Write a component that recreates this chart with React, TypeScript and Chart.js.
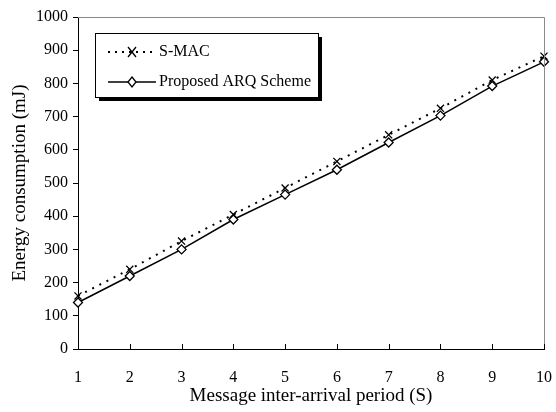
import React, { useEffect, useRef } from "react";
import { Chart, registerables } from "chart.js";

Chart.register(...registerables);

const categories = ["1", "2", "3", "4", "5", "6", "7", "8", "9", "10"];
const smacValues = [160, 240, 325, 405, 485, 565, 645, 725, 810, 882];
const arqValues = [140, 220, 300, 390, 465, 540, 622, 703, 792, 865];
const seriesNames = ["S-MAC", "Proposed ARQ Scheme"];
const xTitle = "Message inter-arrival period (S)";
const yTitle = "Energy consumption (mJ)";

const FONT = "'Liberation Serif', 'Times New Roman', serif";

const framePlugin = {
  id: "frameAndLegend",
  afterDraw(chart: any) {
    const ctx = chart.ctx;
    const a = chart.chartArea;
    ctx.save();
    ctx.strokeStyle = "#8a8a8a";
    ctx.lineWidth = 1;
    ctx.beginPath();
    ctx.moveTo(a.left, a.top + 0.5);
    ctx.lineTo(a.right + 0.5, a.top + 0.5);
    ctx.lineTo(a.right + 0.5, a.bottom);
    ctx.stroke();
    const xs = chart.scales.x;
    ctx.strokeStyle = "#000";
    ctx.beginPath();
    for (let i = 0; i < categories.length; i++) {
      const px = Math.round(xs.getPixelForTick(i)) + 0.5;
      ctx.moveTo(px, a.bottom);
      ctx.lineTo(px, a.bottom - 5);
    }
    ctx.stroke();

    const bx = 95, by = 33, bw = 223, bh = 64;
    ctx.fillStyle = "#000";
    ctx.fillRect(bx + 4, by + 4, bw, bh);
    ctx.fillStyle = "#fff";
    ctx.fillRect(bx, by, bw, bh);
    ctx.strokeStyle = "#000";
    ctx.lineWidth = 1;
    ctx.strokeRect(bx + 0.5, by + 0.5, bw, bh);

    const rows = [by + 19, by + 49];
    const x0 = 108, x1 = 156, xm = 132;
    ctx.lineWidth = 2;
    ctx.setLineDash([2, 5]);
    ctx.beginPath();
    ctx.moveTo(x0, rows[0]);
    ctx.lineTo(x1, rows[0]);
    ctx.stroke();
    ctx.setLineDash([]);
    ctx.lineWidth = 1.3;
    ctx.beginPath();
    ctx.moveTo(xm - 4, rows[0] - 5);
    ctx.lineTo(xm + 4, rows[0] + 5);
    ctx.moveTo(xm + 4, rows[0] - 5);
    ctx.lineTo(xm - 4, rows[0] + 5);
    ctx.stroke();
    ctx.lineWidth = 1.5;
    ctx.beginPath();
    ctx.moveTo(x0, rows[1]);
    ctx.lineTo(x1, rows[1]);
    ctx.stroke();
    ctx.fillStyle = "#fff";
    ctx.beginPath();
    ctx.moveTo(xm, rows[1] - 5);
    ctx.lineTo(xm + 4, rows[1]);
    ctx.lineTo(xm, rows[1] + 5);
    ctx.lineTo(xm - 4, rows[1]);
    ctx.closePath();
    ctx.fill();
    ctx.lineWidth = 1.3;
    ctx.stroke();

    ctx.fillStyle = "#000";
    ctx.font = "16px " + FONT;
    ctx.textBaseline = "middle";
    ctx.textAlign = "left";
    ctx.fillText(seriesNames[0], 159, rows[0]);
    ctx.fillText(seriesNames[1], 159, rows[1]);
    ctx.restore();
  },
};

export default function App() {
  const ref = useRef<HTMLCanvasElement>(null);
  useEffect(() => {
    if (!ref.current) return;
    const chart = new Chart(ref.current, {
      type: "line",
      data: {
        labels: categories,
        datasets: [
          {
            label: seriesNames[0],
            data: smacValues,
            borderColor: "#000",
            backgroundColor: "#000",
            borderWidth: 2,
            borderDash: [2, 6],
            pointStyle: "crossRot",
            pointRadius: 5,
            pointBorderWidth: 1.3,
            pointBorderColor: "#000",
            tension: 0,
            clip: false,
            order: 0,
          },
          {
            label: seriesNames[1],
            data: arqValues,
            borderColor: "#000",
            backgroundColor: "#fff",
            borderWidth: 1.5,
            pointStyle: "rectRot",
            pointRadius: 4.5,
            pointBorderWidth: 1.3,
            pointBackgroundColor: "#fff",
            pointBorderColor: "#000",
            tension: 0,
            clip: false,
            order: 1,
          },
        ],
      },
      options: {
        responsive: false,
        animation: false,
        layout: { padding: { top: 17, right: 12, left: 0, bottom: 0 } },
        plugins: { legend: { display: false }, tooltip: { enabled: false } },
        scales: {
          x: {
            type: "category",
            offset: false,
            afterFit: (s: any) => {
              s.height = 63;
              s.paddingLeft = 0;
              s.paddingRight = 0;
            },
            grid: { display: true, drawOnChartArea: false, drawTicks: false },
            border: { color: "#000", width: 1 },
            ticks: {
              color: "#000",
              font: { family: FONT, size: 16 },
              padding: 19,
              maxRotation: 0,
              autoSkip: false,
            },
            title: {
              display: true,
              text: xTitle,
              color: "#000",
              font: { family: FONT, size: 19 },
              padding: { top: 0, bottom: 5 },
            },
          },
          y: {
            type: "linear",
            min: 0,
            max: 1000,
            afterFit: (s: any) => {
              s.width = 78;
              s.paddingTop = 0;
              s.paddingBottom = 0;
            },
            grid: {
              display: true,
              drawOnChartArea: false,
              drawTicks: true,
              tickLength: 5,
              color: "#000",
            },
            border: { color: "#000", width: 1 },
            ticks: {
              stepSize: 100,
              color: "#000",
              font: { family: FONT, size: 16 },
              padding: 5,
              callback: (v: any) => String(v),
            },
            title: {
              display: true,
              text: yTitle,
              color: "#000",
              font: { family: FONT, size: 19 },
              padding: { top: 9, bottom: 0 },
            },
          },
        },
      },
      plugins: [framePlugin],
    });
    return () => chart.destroy();
  }, []);
  return (
    <div style={{ position: "absolute", left: 0, top: 0, width: 556, height: 412, background: "#fff" }}>
      <canvas ref={ref} width={556} height={412} />
    </div>
  );
}
